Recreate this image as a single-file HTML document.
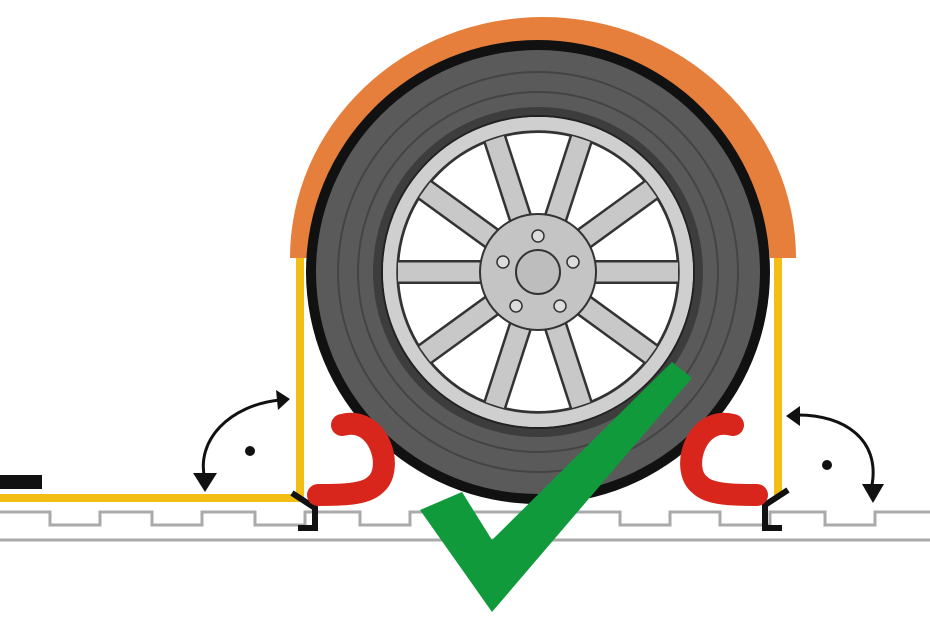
<!DOCTYPE html>
<html><head><style>body{margin:0;background:#fff}svg{display:block}</style></head>
<body>
<svg width="930" height="621" viewBox="0 0 930 621" xmlns="http://www.w3.org/2000/svg">
<rect width="930" height="621" fill="#fff"/>
<!-- ground -->
<path d="M0 512 H50 V525 H100 V512 H152 V525 H202 V512 H255 V525 H305 V512 H360 V525 H410 V512 H620 V525 H670 V512 H720 V525 H770 V512 H825 V525 H875 V512 H930" fill="none" stroke="#aaa" stroke-width="3"/>
<line x1="0" y1="540" x2="930" y2="540" stroke="#aaa" stroke-width="3"/>
<!-- fender -->
<path d="M290 258 A252 240 0 0 1 796 258 L770 258 A228 216 0 0 0 316 258 Z" fill="#e67f3c"/>
<!-- tire -->
<circle cx="538" cy="272" r="232" fill="#111"/>
<circle cx="538" cy="272" r="222" fill="#5a5a5a"/>
<circle cx="538" cy="272" r="200" fill="none" stroke="#444" stroke-width="2"/>
<circle cx="538" cy="272" r="180" fill="none" stroke="#444" stroke-width="2"/>
<circle cx="538" cy="272" r="165" fill="#3d3d3d"/>
<!-- rim -->
<circle cx="538" cy="272" r="156" fill="#cfcfcf" stroke="#222" stroke-width="2"/>
<circle cx="538" cy="272" r="140" fill="#fff" stroke="#333" stroke-width="2"/>
<g stroke="#333" stroke-width="24" stroke-linecap="butt">
<line x1="538" y1="272" x2="538" y2="130" transform="rotate(-18 538 272)"/>
<line x1="538" y1="272" x2="538" y2="130" transform="rotate(18 538 272)"/>
<line x1="538" y1="272" x2="538" y2="130" transform="rotate(54 538 272)"/>
<line x1="538" y1="272" x2="538" y2="130" transform="rotate(90 538 272)"/>
<line x1="538" y1="272" x2="538" y2="130" transform="rotate(126 538 272)"/>
<line x1="538" y1="272" x2="538" y2="130" transform="rotate(162 538 272)"/>
<line x1="538" y1="272" x2="538" y2="130" transform="rotate(198 538 272)"/>
<line x1="538" y1="272" x2="538" y2="130" transform="rotate(234 538 272)"/>
<line x1="538" y1="272" x2="538" y2="130" transform="rotate(270 538 272)"/>
<line x1="538" y1="272" x2="538" y2="130" transform="rotate(306 538 272)"/>
</g>
<g stroke="#c8c8c8" stroke-width="19">
<line x1="538" y1="272" x2="538" y2="132" transform="rotate(-18 538 272)"/>
<line x1="538" y1="272" x2="538" y2="132" transform="rotate(18 538 272)"/>
<line x1="538" y1="272" x2="538" y2="132" transform="rotate(54 538 272)"/>
<line x1="538" y1="272" x2="538" y2="132" transform="rotate(90 538 272)"/>
<line x1="538" y1="272" x2="538" y2="132" transform="rotate(126 538 272)"/>
<line x1="538" y1="272" x2="538" y2="132" transform="rotate(162 538 272)"/>
<line x1="538" y1="272" x2="538" y2="132" transform="rotate(198 538 272)"/>
<line x1="538" y1="272" x2="538" y2="132" transform="rotate(234 538 272)"/>
<line x1="538" y1="272" x2="538" y2="132" transform="rotate(270 538 272)"/>
<line x1="538" y1="272" x2="538" y2="132" transform="rotate(306 538 272)"/>
</g>
<circle cx="538" cy="272" r="148" fill="none" stroke="#cfcfcf" stroke-width="14"/>
<circle cx="538" cy="272" r="141" fill="none" stroke="#333" stroke-width="1.5"/>
<circle cx="538" cy="272" r="58" fill="#c4c4c4" stroke="#333" stroke-width="2"/>
<circle cx="538" cy="272" r="22" fill="#bdbdbd" stroke="#333" stroke-width="2"/>
<g fill="#ddd" stroke="#333" stroke-width="1.5">
<circle cx="538" cy="236" r="6"/><circle cx="573" cy="262" r="6"/><circle cx="503" cy="262" r="6"/>
<circle cx="516" cy="306" r="6"/><circle cx="560" cy="306" r="6"/>
</g>
<!-- straps -->
<path d="M0 498 H300 V258" fill="none" stroke="#f2bd14" stroke-width="8"/>
<path d="M778 258 V495" fill="none" stroke="#f2bd14" stroke-width="8"/>
<rect x="0" y="475" width="42" height="14" fill="#111"/>
<path d="M292 493 L315 508 V528 H298" fill="none" stroke="#111" stroke-width="6"/>
<path d="M788 490 L765 505 V528 H782" fill="none" stroke="#111" stroke-width="6"/>
<!-- hooks -->
<path d="M342 425 C380 415 395 470 375 485 C365 495 340 495 318 495" fill="none" stroke="#d9261c" stroke-width="22" stroke-linecap="round"/>
<path d="M733 425 C695 415 680 470 700 485 C710 495 735 495 757 495" fill="none" stroke="#d9261c" stroke-width="22" stroke-linecap="round"/>
<!-- arrows -->
<path d="M205 480 C195 440 230 405 280 400" fill="none" stroke="#111" stroke-width="3"/>
<path d="M290 399 L276 390 L278 410 Z" fill="#111"/>
<path d="M193 473 L217 473 L205 492 Z" fill="#111"/>
<circle cx="250" cy="451" r="5" fill="#111"/>
<path d="M872 485 C880 440 845 415 798 415" fill="none" stroke="#111" stroke-width="3"/>
<path d="M786 416 L800 406 L800 426 Z" fill="#111"/>
<path d="M862 484 L884 484 L873 503 Z" fill="#111"/>
<circle cx="827" cy="465" r="5" fill="#111"/>
<!-- check -->
<path d="M420 510 L462 492 L492 540 L672 362 L692 378 L492 612 Z" fill="#119a3c"/>
</svg>
</body></html>
